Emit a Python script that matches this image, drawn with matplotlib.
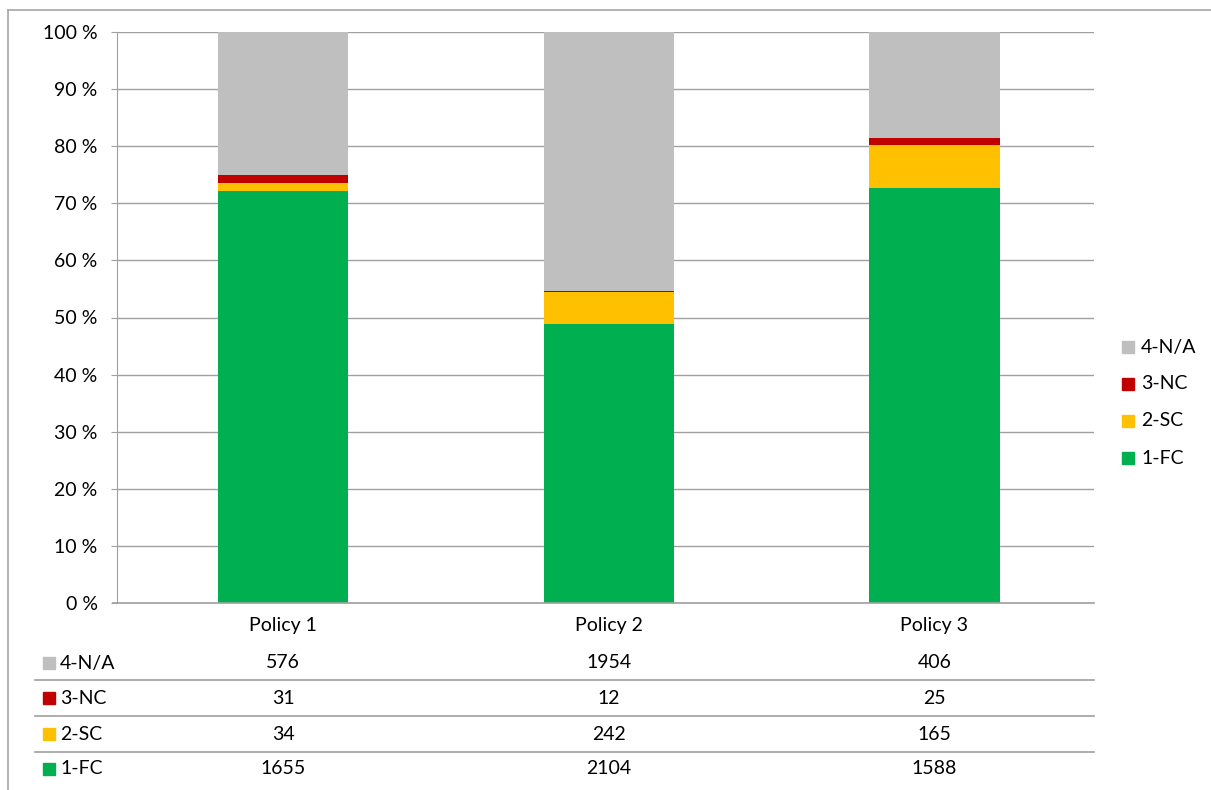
import numpy as np
import matplotlib.pyplot as plt
from matplotlib.patches import Rectangle
from matplotlib.lines import Line2D
from matplotlib.transforms import blended_transform_factory

policies = ['Policy 1', 'Policy 2', 'Policy 3']
series = ['1-FC', '2-SC', '3-NC', '4-N/A']
counts = {
    '1-FC': [1655, 2104, 1588],
    '2-SC': [34, 242, 165],
    '3-NC': [31, 12, 25],
    '4-N/A': [576, 1954, 406],
}
colors = {'1-FC': '#00B050', '2-SC': '#FFC000', '3-NC': '#C00000', '4-N/A': '#BFBFBF'}
yticks = np.arange(0, 101, 10)

W, H = 1211, 790
FS = 14
plt.rcParams['font.family'] = ['Lato', 'DejaVu Sans']
fig = plt.figure(figsize=(W / 100, H / 100), dpi=100)

def fx(px):  # pixel -> figure fraction
    return px / W

def fy(py):
    return 1 - py / H

ax = fig.add_axes([fx(117), fy(603), fx(1094) - fx(117), fy(32) - fy(603)])

totals = np.sum([counts[s] for s in series], axis=0)
x = np.arange(len(policies))
bottom = np.zeros(len(policies))
for s in series:
    pct = np.array(counts[s]) / totals * 100
    ax.bar(x, pct, width=0.4, bottom=bottom, color=colors[s], zorder=3)
    bottom += pct

ax.set_xlim(-0.51, 2.49)
ax.set_ylim(0, 100)
ax.set_yticks(yticks)
ax.set_yticklabels([f'{v} %' for v in yticks], fontsize=FS)
ax.set_xticks([])
ax.grid(axis='y', color='#A0A0A0', linewidth=1, zorder=0)
for sp in ['top', 'right', 'bottom']:
    ax.spines[sp].set_visible(False)
ax.spines['left'].set_color('#A0A0A0')
ax.tick_params(axis='y', length=4, color='#A0A0A0', pad=10)

# outer chart border (top and left)
fig.add_artist(Line2D([fx(8), 1], [fy(10), fy(10)], color='#A6A6A6', lw=1.2))
fig.add_artist(Line2D([fx(8), fx(8)], [0, fy(10)], color='#A6A6A6', lw=1.2))

# x-axis line
fig.add_artist(Line2D([fx(113), fx(1094)], [fy(603), fy(603)], color='#A0A0A0', lw=1.2))

# data table
tr = blended_transform_factory(ax.transData, fig.transFigure)
for i, p in enumerate(policies):
    fig.text(i, fy(626), p, transform=tr, ha='center', va='center', fontsize=FS)

row_order = ['4-N/A', '3-NC', '2-SC', '1-FC']
row_y = [663, 698, 734, 769]
for s, ry in zip(row_order, row_y):
    fig.add_artist(Rectangle((fx(43), fy(ry + 6)), fx(12), 12 / H, color=colors[s]))
    fig.text(fx(60), fy(ry), s, ha='left', va='center', fontsize=FS)
    for i, v in enumerate(counts[s]):
        fig.text(i, fy(ry), str(v), transform=tr, ha='center', va='center', fontsize=FS)
for ly in [680, 716, 752]:
    fig.add_artist(Line2D([fx(35), fx(1094)], [fy(ly), fy(ly)], color='#A0A0A0', lw=1.2))

# legend
leg_y = [347, 384, 421, 458]
for s, ly in zip(row_order, leg_y):
    fig.add_artist(Rectangle((fx(1122), fy(ly + 6)), fx(12), 12 / H, color=colors[s]))
    fig.text(fx(1141), fy(ly), s, ha='left', va='center', fontsize=FS)

fig.savefig('out.png', dpi=100)
